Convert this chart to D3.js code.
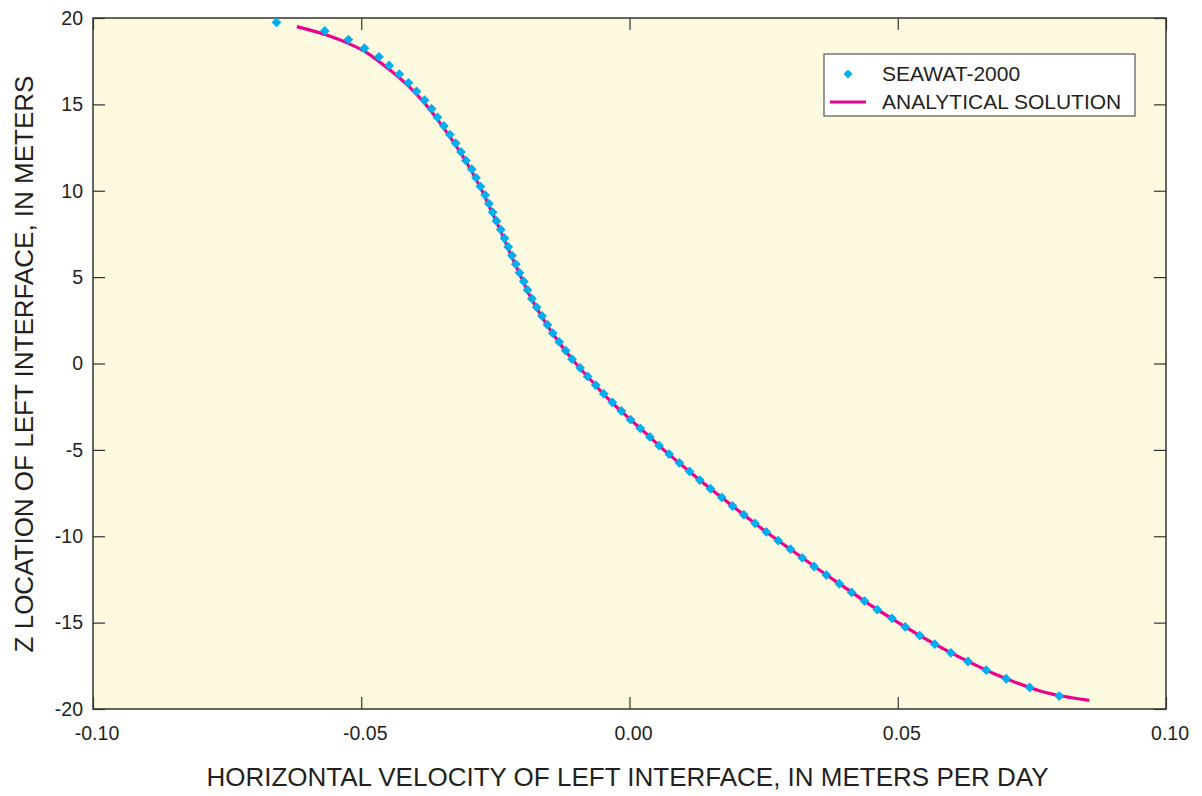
<!DOCTYPE html>
<meta charset="utf-8">
<style>
body {
	margin: 0;
	padding: 0;
	background: #fff;
}
svg text {
	font-family: "Liberation Sans", Arial, Helvetica, sans-serif;
	fill: #231f20;
}
.frame {
	fill: #fefadf;
	stroke: #333;
	stroke-width: 1.5px;
}
.axis path.domain { display: none; }
.axis line { stroke: #333; stroke-width: 1.2px; }
.axis text { font-size: 19.5px; }
.title { font-size: 26px; }
.legend-text { font-size: 21px; }
</style>
<body>
<div id="chart"></div>
<script src="https://cdn.jsdelivr.net/npm/d3@7"></script>
<script>

// SEAWAT-2000 points: z location (m) and horizontal velocity (m/d)
var seawatZ = [19.75, 19.25, 18.75, 18.25, 17.75, 17.25, 16.75, 16.25, 15.75, 15.25,
	14.75, 14.25, 13.75, 13.25, 12.75, 12.25, 11.75, 11.25, 10.75, 10.25,
	9.75, 9.25, 8.75, 8.25, 7.75, 7.25, 6.75, 6.25, 5.75, 5.25,
	4.75, 4.25, 3.75, 3.25, 2.75, 2.25, 1.75, 1.25, 0.75, 0.25,
	-0.25, -0.75, -1.25, -1.75, -2.25, -2.75, -3.25, -3.75, -4.25, -4.75,
	-5.25, -5.75, -6.25, -6.75, -7.25, -7.75, -8.25, -8.75, -9.25, -9.75,
	-10.25, -10.75, -11.25, -11.75, -12.25, -12.75, -13.25, -13.75, -14.25, -14.75,
	-15.25, -15.75, -16.25, -16.75, -17.25, -17.75, -18.25, -18.75, -19.25];
var seawatV = [-0.0658, -0.0568, -0.0524, -0.0494, -0.0467, -0.0448, -0.0429, -0.0412, -0.0397, -0.0382,
	-0.0369, -0.0358, -0.0346, -0.0335, -0.0324, -0.0314, -0.0305, -0.0294, -0.0286, -0.0278,
	-0.0269, -0.0262, -0.0255, -0.0248, -0.0240, -0.0233, -0.0226, -0.0219, -0.0212, -0.0205,
	-0.0197, -0.0190, -0.0182, -0.0173, -0.0163, -0.0153, -0.0143, -0.0131, -0.0119, -0.0107,
	-0.0092, -0.0078, -0.0063, -0.0048, -0.0032, -0.0015, 0.0002, 0.0020, 0.0038, 0.0055,
	0.0074, 0.0093, 0.0112, 0.0131, 0.0151, 0.0172, 0.0192, 0.0213, 0.0234, 0.0255,
	0.0277, 0.0300, 0.0322, 0.0344, 0.0367, 0.0391, 0.0414, 0.0438, 0.0462, 0.0489,
	0.0514, 0.0541, 0.0569, 0.0599, 0.0631, 0.0665, 0.0702, 0.0746, 0.0801];

// analytical solution
var analyticZ = [19.5, 19.0, 18.5, 18.0, 17.0, 16.0, 15.0, 14.0, 13.0, 12.0,
	11.0, 10.0, 9.0, 8.0, 7.0, 6.0, 5.0, 4.0, 3.0, 2.0,
	1.0, 0.0, -1.0, -2.0, -3.0, -4.0, -5.0, -6.0, -7.0, -8.0,
	-9.0, -10.0, -11.0, -12.0, -13.0, -14.0, -15.0, -16.0, -17.0, -18.0,
	-19.0, -19.5];
var analyticV = [-0.0620, -0.0563, -0.0522, -0.0490, -0.0447, -0.0410, -0.0380, -0.0355, -0.0332, -0.0311,
	-0.0292, -0.0275, -0.0260, -0.0245, -0.0231, -0.0217, -0.0202, -0.0187, -0.0169, -0.0149,
	-0.0126, -0.0100, -0.0071, -0.0041, -0.0007, 0.0029, 0.0064, 0.0102, 0.0141, 0.0182,
	0.0223, 0.0266, 0.0311, 0.0356, 0.0403, 0.0450, 0.0501, 0.0555, 0.0615, 0.0683,
	0.0770, 0.0857];

var xTicks = [-0.10, -0.05, 0.00, 0.05, 0.10];
var yTicks = [-20, -15, -10, -5, 0, 5, 10, 15, 20];
var seriesNames = ["SEAWAT-2000", "ANALYTICAL SOLUTION"];

var width = 1202, height = 796;
var plotLeft = 93, plotRight = 1166, plotTop = 18, plotBottom = 709;
var blue = "#00aeef", magenta = "#ec008c";

var x = d3.scaleLinear().domain([-0.1, 0.1]).range([plotLeft, plotRight]);
var y = d3.scaleLinear().domain([-20, 20]).range([plotBottom, plotTop]);

var svg = d3.select("#chart").append("svg")
		.attr("width", width)
		.attr("height", height);

svg.append("rect")
		.attr("class", "frame")
		.attr("x", plotLeft)
		.attr("y", plotTop)
		.attr("width", plotRight - plotLeft)
		.attr("height", plotBottom - plotTop);

// axes, ticks pointing inward on all four sides
svg.append("g")
		.attr("class", "axis")
		.attr("transform", "translate(0," + plotBottom + ")")
		.call(d3.axisBottom(x).tickValues(xTicks).tickSizeInner(-12).tickSizeOuter(0)
			.tickPadding(17).tickFormat(function(d) { return d.toFixed(2); }))
		.selectAll("text").attr("dx", 3.5);

svg.append("g")
		.attr("class", "axis")
		.attr("transform", "translate(0," + plotTop + ")")
		.call(d3.axisTop(x).tickValues(xTicks).tickSizeInner(-12).tickSizeOuter(0).tickFormat(""));

svg.append("g")
		.attr("class", "axis")
		.attr("transform", "translate(" + plotLeft + ",0)")
		.call(d3.axisLeft(y).tickValues(yTicks).tickSizeInner(-12).tickSizeOuter(0)
			.tickPadding(10).tickFormat(function(d) { return String(d); }));

svg.append("g")
		.attr("class", "axis")
		.attr("transform", "translate(" + plotRight + ",0)")
		.call(d3.axisRight(y).tickValues(yTicks).tickSizeInner(-12).tickSizeOuter(0).tickFormat(""));

// analytical line
var analytic = analyticZ.map(function(z, i) { return {z: z, v: analyticV[i]}; });
var line = d3.line()
		.x(function(d) { return x(d.v); })
		.y(function(d) { return y(d.z); })
		.curve(d3.curveCatmullRom);

svg.append("path")
		.datum(analytic)
		.attr("d", line)
		.attr("fill", "none")
		.attr("stroke", magenta)
		.attr("stroke-width", 3.2);

// seawat diamonds
var seawat = seawatZ.map(function(z, i) { return {z: z, v: seawatV[i]}; });
var diamond = d3.symbol().type(d3.symbolSquare).size(48);

svg.append("g").selectAll("path")
		.data(seawat).enter()
		.append("path")
		.attr("d", diamond)
		.attr("transform", function(d) { return "translate(" + x(d.v) + "," + y(d.z) + ") rotate(45)"; })
		.attr("fill", blue);

// legend
var legend = svg.append("g");
legend.append("rect")
		.attr("x", 824).attr("y", 54)
		.attr("width", 311).attr("height", 62)
		.attr("fill", "#fff")
		.attr("stroke", "#555")
		.attr("stroke-width", 1.2);
legend.append("path")
		.attr("d", d3.symbol().type(d3.symbolSquare).size(40))
		.attr("transform", "translate(848,74) rotate(45)")
		.attr("fill", blue);
legend.append("line")
		.attr("x1", 830).attr("x2", 866)
		.attr("y1", 102).attr("y2", 102)
		.attr("stroke", magenta)
		.attr("stroke-width", 3.2);
legend.selectAll("text")
		.data(seriesNames).enter()
		.append("text")
		.attr("class", "legend-text")
		.attr("x", 882)
		.attr("y", function(d, i) { return i ? 108.5 : 81; })
		.text(function(d) { return d; });

// axis titles
svg.append("text")
		.attr("class", "title")
		.attr("text-anchor", "middle")
		.attr("x", 627.5)
		.attr("y", 786)
		.text("HORIZONTAL VELOCITY OF LEFT INTERFACE, IN METERS PER DAY");

svg.append("text")
		.attr("class", "title")
		.attr("text-anchor", "middle")
		.attr("transform", "translate(33,364) rotate(-90)")
		.text("Z LOCATION OF LEFT INTERFACE, IN METERS");

</script>
</body>
